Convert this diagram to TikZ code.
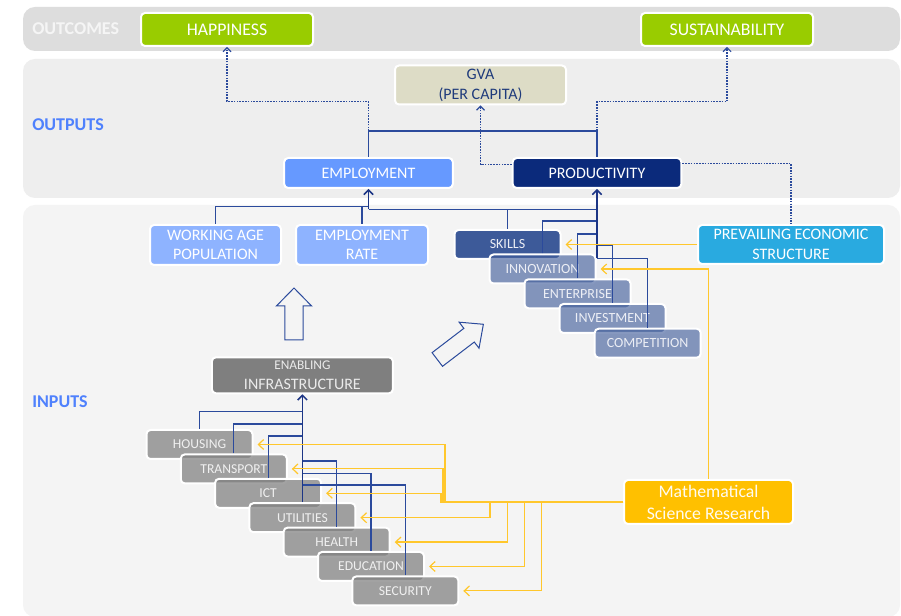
\documentclass[tikz,border=0pt]{standalone}
\usepackage{fontspec}
\setmainfont{Carlito}
\usetikzlibrary{arrows.meta}
\definecolor{bandA}{HTML}{DDDDDD}
\definecolor{bandB}{HTML}{EEEEEE}
\definecolor{bandC}{HTML}{F4F4F4}
\definecolor{cgreen}{HTML}{99CC00}
\definecolor{cgva}{HTML}{DDDCC6}
\definecolor{cgvatext}{HTML}{1F3B7B}
\definecolor{cemp}{HTML}{6699FF}
\definecolor{cprod}{HTML}{0B2A7B}
\definecolor{cwap}{HTML}{8EB3FF}
\definecolor{cpes}{HTML}{29AAE0}
\definecolor{cskill}{HTML}{3D5A99}
\definecolor{cgray}{HTML}{7F7F7F}
\definecolor{cmsr}{HTML}{FFC000}
\definecolor{cline}{HTML}{2B4A9C}
\definecolor{ctrunk}{HTML}{1C3585}
\definecolor{cyel}{HTML}{FFC72C}
\definecolor{clabel}{HTML}{4F81FD}
\tikzset{
  box/.style={draw=white, line width=1.5pt, rounded corners=3pt, text=white, align=center, inner sep=0pt},
  outc/.style={box, fill=cgreen, minimum width=129pt, minimum height=24.75pt, font=\fontsize{13.3}{15}\selectfont},
  outp/.style={box, minimum width=126.5pt, minimum height=22.5pt, font=\fontsize{12}{14}\selectfont},
  inb/.style={box, minimum height=30pt, font=\fontsize{12}{14.3}\selectfont},
  bstack/.style={box, fill=cskill, fill opacity=0.62, text opacity=1, minimum width=79.5pt, minimum height=21.75pt, text=white!90!cskill, font=\fontsize{10.5}{12}\selectfont},
  gstack/.style={box, fill=cgray, fill opacity=0.72, text opacity=1, minimum width=79.5pt, minimum height=21.75pt, text=white!94!black, font=\fontsize{10.2}{12}\selectfont},
  bline/.style={cline, line width=0.85pt},
  barr/.style={ctrunk, line width=1.1pt, -{Straight Barb[length=3.5pt,width=7pt]}},
  yarr/.style={cyel, line width=0.9pt, -{Straight Barb[length=4pt,width=7.5pt]}, shorten >=3pt},
  dotl/.style={cline, line width=0.8pt, dash pattern=on 1.2pt off 0.9pt},
  darr/.style={dotl, -{Straight Barb[length=3pt,width=6pt]}},
  blockarr/.style={draw=cline, line width=0.75pt, fill=bandC, line join=miter},
  bandlabel/.style={anchor=west, inner sep=0pt, font=\bfseries\fontsize{13.5}{16}\selectfont}
}
\begin{document}
\begin{tikzpicture}[x=0.75pt,y=-0.75pt]
\useasboundingbox (0,0) rectangle (901,616);
\fill[white] (0,0) rectangle (901,616);
% bands
\fill[bandA, rounded corners=9pt] (23,7) rectangle (900,51);
\fill[bandB, rounded corners=9pt] (23,59) rectangle (900,198);
\fill[bandC, rounded corners=9pt] (23,205) rectangle (900,617);
\node[bandlabel, text=white!96!black] (lout) at (32,29) {OUTCOMES};
\node[bandlabel, text=clabel] (lop) at (32,125) {OUTPUTS};
\node[bandlabel, text=clabel] (lin) at (32,402) {INPUTS};

% block arrows
\begin{scope}[shift={(294,340)}, rotate=90]
\draw[blockarr] (0,-9.2) -- (34,-9.2) -- (34,-17.6) -- (52,0) -- (34,17.6) -- (34,9.2) -- (0,9.2) -- cycle;
\end{scope}
\begin{scope}[shift={(437.3,359.5)}, rotate=37.4]
\draw[blockarr] (0,-8.6) -- (40,-8.6) -- (40,-16.4) -- (58,0) -- (40,16.4) -- (40,8.6) -- (0,8.6) -- cycle;
\end{scope}

% outcomes
\node[outc] (happ) at (227,29.5) {HAPPINESS};
\node[outc] (sust) at (727,29.5) {SUSTAINABILITY};
% outputs
\node[box, fill=cgva, text=cgvatext, minimum width=128.25pt, minimum height=29.25pt, font=\fontsize{12}{15}\selectfont] (gva) at (480.5,85) {GVA\\(PER CAPITA)};
\node[outp, fill=cemp] (emp) at (368.5,173) {EMPLOYMENT};
\node[outp, fill=cprod] (prod) at (597,173) {PRODUCTIVITY};
% inputs top
\node[inb, fill=cwap, minimum width=98.25pt] (wap) at (215.5,245) {WORKING AGE\\POPULATION};
\node[inb, fill=cwap, minimum width=99pt] (er) at (362,245) {EMPLOYMENT\\RATE};
\node[box, fill=cpes, minimum width=139.5pt, minimum height=29.25pt, font=\fontsize{12}{15}\selectfont] (pes) at (791,244.5) {PREVAILING ECONOMIC\\STRUCTURE};
% productivity stack
\node[bstack, fill opacity=1] (skills) at (507.5,244.5) {SKILLS};
\node[bstack] (innov) at (542.5,269) {INNOVATION};
\node[bstack] (enter) at (577.5,293.8) {ENTERPRISE};
\node[bstack] (invest) at (612.5,318.5) {INVESTMENT};
\node[bstack] (compet) at (647.7,343.2) {COMPETITION};
% infrastructure
\node[box, fill=cgray, text=white!92!black, minimum width=135.75pt, minimum height=27pt] (enab) at (302.4,375.3) {{\fontsize{10}{11}\selectfont ENABLING}\\[2.5pt]{\fontsize{12}{13}\selectfont INFRASTRUCTURE}};
\node[gstack] (housing) at (199.5,444.5) {HOUSING};
\node[gstack] (transport) at (233.8,468.9) {TRANSPORT};
\node[gstack] (ict) at (268.1,493.3) {ICT};
\node[gstack] (util) at (302.4,517.7) {UTILITIES};
\node[gstack] (health) at (336.7,542.1) {HEALTH};
\node[gstack] (edu) at (371,566.5) {EDUCATION};
\node[gstack] (sec) at (405.3,590.9) {SECURITY};
% research
\node[box, fill=cmsr, text=white!94!cmsr, minimum width=126.75pt, minimum height=33pt, font=\fontsize{13.3}{16.5}\selectfont] (msr) at (708.5,502) {Mathematical\\Science Research};

% output connectors
\draw[bline] (emp.north) -- (368.5,131) -- (597,131) -- (prod.north);
\draw[darr] (368.5,131) -- (368.5,101.7) -| (happ.south);
\draw[darr] (597,131) -- (597,101.7) -| (sust.south);
\draw[darr] ([yshift=6.5pt]prod.west) -| (gva.south);
\draw[dotl] ([yshift=6.8pt]prod.east) -| (pes.north);

% employment inputs
\draw[bline] (wap.north) |- (368.5,206.7);
\draw[bline] (er.north) -- (362,206.7);
\draw[bline] (skills.north) |- (368.5,209.3);
\draw[bline] (507.5,209.3) -- (597,209.3);
\draw[barr] (368.5,209.3) -- (emp.south);

% productivity inputs
\draw[bline] (innov.north) |- (597,221);
\draw[bline] (enter.north) |- (597,234);
\draw[bline] (invest.north) |- (597,245.7);
\draw[bline] (compet.north) |- (597,258.3);
\draw[barr] (597,258.3) -- (prod.south);

% infrastructure inputs
\draw[bline] (housing.north) |- (302.4,411.7);
\draw[bline] (transport.north) |- (302.4,424);
\draw[bline] (ict.north) |- (302.4,436);
\draw[bline] (health.north) |- (302.4,461);
\draw[bline] (edu.north) |- (302.4,473.3);
\draw[bline] (sec.north) |- (302.4,485);
\draw[barr] (util.north) -- (enab.south);

% research connectors
\draw[yarr] (pes.west) -- (skills.east);
\draw[yarr] (msr.north) |- (innov.east);
\draw[yarr] (msr.west) -- (445,502) |- (housing.east);
\draw[yarr] (msr.west) -- (443,502) |- (transport.east);
\draw[yarr] (msr.west) -- (441,502) |- (ict.east);
\draw[yarr] (msr.west) -- (490,502) |- (util.east);
\draw[yarr] (msr.west) -- (507.5,502) |- (health.east);
\draw[yarr] (msr.west) -- (524.5,502) |- (edu.east);
\draw[yarr] (msr.west) -- (541.5,502) |- (sec.east);
\end{tikzpicture}
\end{document}
